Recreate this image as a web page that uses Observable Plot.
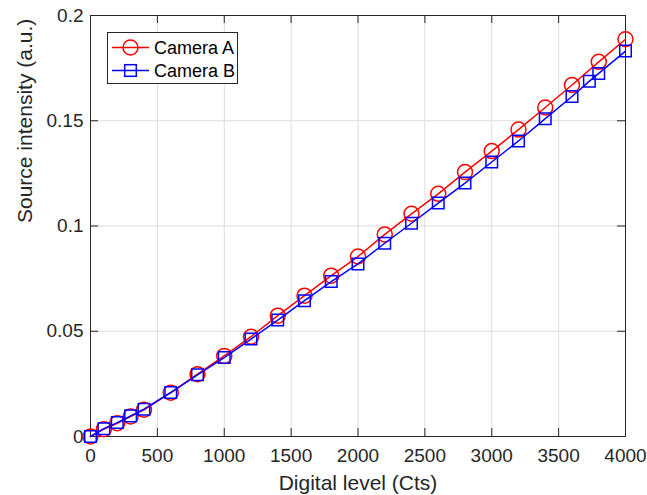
<!DOCTYPE html>
<html>
<head>
<meta charset="utf-8">
<script src="https://cdn.jsdelivr.net/npm/d3@7"></script>
<script src="https://cdn.jsdelivr.net/npm/@observablehq/plot@0.6"></script>
<style>
  body { margin: 0; background: white; }
  #wrap { position: relative; width: 647px; height: 495px; font-family: "Liberation Sans", Arial, sans-serif; }
  #legend { position: absolute; left: 107px; top: 32px; width: 129px; height: 50px; border: 1px solid #262626; background: white; }
</style>
</head>
<body>
<div id="wrap"></div>
<script>
// ---- data ----
const seriesNames = ["Camera A", "Camera B"];
const levelsA = [0, 100, 200, 300, 400, 600, 800, 1000, 1200, 1400, 1600, 1800, 2000, 2200, 2400, 2600, 2800, 3000, 3200, 3400, 3600, 3800, 4000];
const intensityA = [0, 0.0035, 0.0063, 0.0095, 0.0127, 0.0208, 0.0296, 0.0383, 0.0474, 0.0574, 0.0669, 0.0764, 0.0855, 0.0960, 0.1058, 0.1153, 0.1256, 0.1356, 0.1458, 0.1563, 0.1670, 0.1780, 0.1887];
const levelsB = [0, 100, 200, 300, 400, 600, 800, 1000, 1200, 1400, 1600, 1800, 2000, 2200, 2400, 2600, 2800, 3000, 3200, 3400, 3600, 3730, 3800, 4000];
const intensityB = [0, 0.0037, 0.0066, 0.0098, 0.0130, 0.0209, 0.0293, 0.0375, 0.0463, 0.0553, 0.0645, 0.0736, 0.0820, 0.0918, 0.1013, 0.1109, 0.1204, 0.1304, 0.1404, 0.1510, 0.1615, 0.1688, 0.1725, 0.1831];
const xTicks = [0, 500, 1000, 1500, 2000, 2500, 3000, 3500, 4000];
const xTickLabels = ["0", "500", "1000", "1500", "2000", "2500", "3000", "3500", "4000"];
const yTicks = [0, 0.05, 0.1, 0.15, 0.2];
const yTickLabels = ["0", "0.05", "0.1", "0.15", "0.2"];
const xLabel = "Digital level (Cts)";
const yLabel = "Source intensity (a.u.)";

const A = levelsA.map((x, i) => ({x, y: intensityA[i]}));
const B = levelsB.map((x, i) => ({x, y: intensityB[i]}));

const W = 647, H = 495;
const mL = 90, mR = 22, mT = 15, mB = 59;
const fw = W - mL - mR, fh = H - mT - mB;
const axisColor = "#262626";
const tickLen = 8;

const chart = Plot.plot({
  width: W, height: H,
  marginLeft: mL, marginRight: mR, marginTop: mT, marginBottom: mB,
  style: {fontFamily: "'Liberation Sans', Arial, sans-serif", color: axisColor, background: "white"},
  x: {domain: [0, 4000]},
  y: {domain: [0, 0.2]},
  marks: [
    Plot.gridX(xTicks, {stroke: "#dcdcdc", strokeOpacity: 1}),
    Plot.gridY(yTicks, {stroke: "#dcdcdc", strokeOpacity: 1}),
    Plot.frame({stroke: axisColor}),
    Plot.tickX(xTicks, {x: d => d, insetTop: fh - tickLen, stroke: axisColor}),
    Plot.tickX(xTicks, {x: d => d, insetBottom: fh - tickLen, stroke: axisColor}),
    Plot.tickY(yTicks, {y: d => d, insetRight: fw - tickLen, stroke: axisColor}),
    Plot.tickY(yTicks, {y: d => d, insetLeft: fw - tickLen, stroke: axisColor}),
    Plot.axisX(xTicks, {tickSize: 0, tickPadding: 12, fontSize: 19, label: null, tickFormat: (d, i) => xTickLabels[i]}),
    Plot.axisY(yTicks, {tickSize: 0, tickPadding: 7, fontSize: 19, label: null, tickFormat: (d, i) => yTickLabels[i]}),
    Plot.text([xLabel], {text: d => d, frameAnchor: "bottom", dy: 47, lineAnchor: "middle", fontSize: 21, fill: axisColor}),
    Plot.text([yLabel], {text: d => d, frameAnchor: "left", dx: -65, dy: -3, rotate: -90, lineAnchor: "middle", fontSize: 21, fill: axisColor}),
    Plot.line(A, {x: "x", y: "y", stroke: "#ff0000", strokeWidth: 1.5}),
    Plot.dot(A, {x: "x", y: "y", r: 7.5, symbol: "circle", stroke: "#ff0000", strokeWidth: 1.5, fill: "none"}),
    Plot.line(B, {x: "x", y: "y", stroke: "#0000ff", strokeWidth: 1.5}),
    Plot.dot(B, {x: "x", y: "y", r: 6.5, symbol: "square", stroke: "#0000ff", strokeWidth: 1.5, fill: "none"})
  ]
});

const wrap = document.getElementById("wrap");
wrap.appendChild(chart);

// legend overlay
const leg = document.createElement("div");
leg.id = "legend";
leg.innerHTML = `
<svg width="129" height="50" style="display:block">
  <g font-family="'Liberation Sans', Arial, sans-serif" font-size="18" fill="#000">
    <line x1="4" x2="41" y1="14.5" y2="14.5" stroke="#ff0000" stroke-width="1.5"/>
    <circle cx="22.5" cy="14.5" r="7.5" fill="none" stroke="#ff0000" stroke-width="1.5"/>
    <text x="46" y="14.5" dy="0.35em">${seriesNames[0]}</text>
    <line x1="4" x2="41" y1="37.5" y2="37.5" stroke="#0000ff" stroke-width="1.5"/>
    <rect x="16.7" y="31.7" width="11.6" height="11.6" fill="none" stroke="#0000ff" stroke-width="1.5"/>
    <text x="46" y="37.5" dy="0.35em">${seriesNames[1]}</text>
  </g>
</svg>`;
wrap.appendChild(leg);
</script>
</body>
</html>
